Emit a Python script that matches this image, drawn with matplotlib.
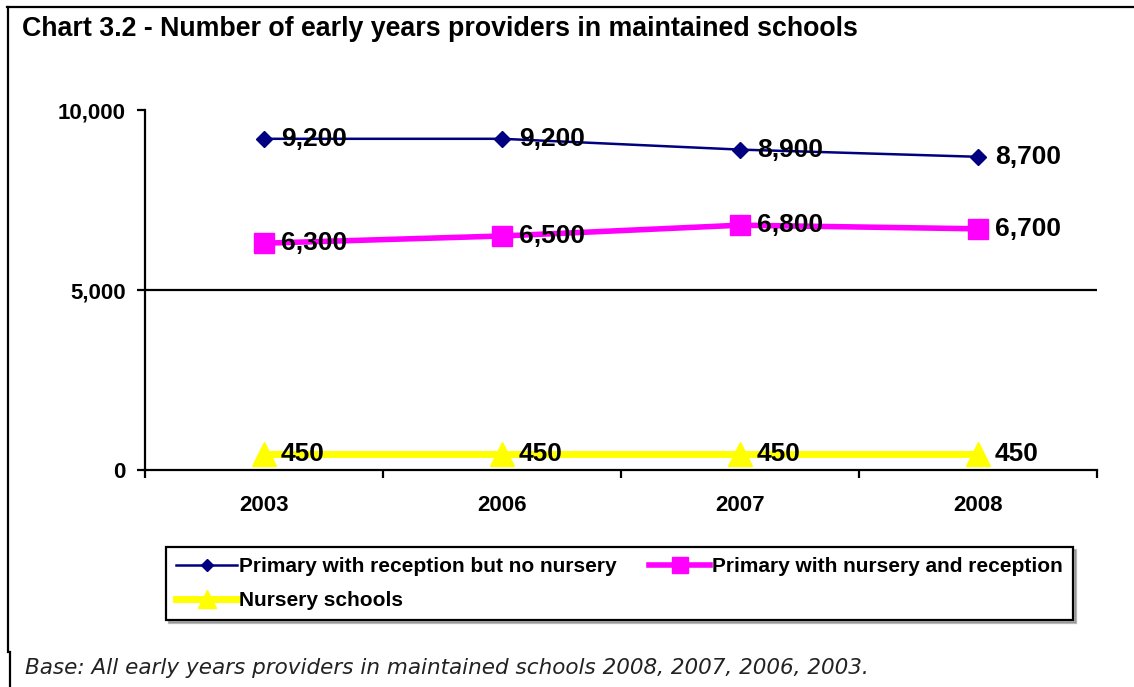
import matplotlib
matplotlib.use("Agg")
import matplotlib.pyplot as plt
from matplotlib.lines import Line2D

years = ["2003", "2006", "2007", "2008"]
primary_reception = [9200, 9200, 8900, 8700]
primary_nursery = [6300, 6500, 6800, 6700]
nursery_schools = [450, 450, 450, 450]
series_names = ["Primary with reception but no nursery",
                "Primary with nursery and reception",
                "Nursery schools"]
yticks = [0, 5000, 10000]

W, H = 1134, 687
fig = plt.figure(figsize=(W / 100, H / 100), dpi=100)
plt.rcParams['font.family'] = ['Liberation Sans', 'DejaVu Sans']

def fx(px):
    return px / W

def fy(py):
    return 1 - py / H

ax = fig.add_axes([fx(145), fy(470), fx(1097) - fx(145), fy(110) - fy(470)])
x = list(range(len(years)))

ax.axhline(5000, color='black', lw=1.6, zorder=1)

l0, = ax.plot(x, primary_reception, color='#000080', lw=1.8, marker='D', ms=8,
              mfc='#000080', mec='#000080', label=series_names[0], zorder=3)
l1, = ax.plot(x, primary_nursery, color='#FF00FF', lw=4, marker='s', ms=14,
              mfc='#FF00FF', mec='#FF00FF', label=series_names[1], zorder=3)
l2, = ax.plot(x, nursery_schools, color='#FFFF00', lw=5, marker='^', ms=17,
              mfc='#FFFF00', mec='#FFFF00', label=series_names[2], zorder=3)

for series in (primary_reception, primary_nursery, nursery_schools):
    for xi, v in zip(x, series):
        ax.annotate(f"{v:,}", (xi, v), xytext=(12, 0), textcoords='offset points',
                    ha='left', va='center', fontsize=19, fontweight='bold',
                    color='black', zorder=4)

ax.set_xlim(-0.5, len(years) - 0.5)
ax.set_ylim(0, 10000)
ax.set_yticks(yticks)
ax.set_yticklabels([f"{t:,}" for t in yticks], fontsize=16, fontweight='bold')
ax.set_xticks(x)
ax.set_xticklabels(years, fontsize=16, fontweight='bold')
ax.set_xticks([i - 0.5 for i in range(len(years) + 1)], minor=True)
ax.tick_params(axis='x', which='major', length=0, pad=18)
ax.tick_params(axis='x', which='minor', length=6, width=1.6, direction='out')
ax.tick_params(axis='y', length=6, width=1.6, direction='out', pad=8)
for s in ('top', 'right'):
    ax.spines[s].set_visible(False)
for s in ('left', 'bottom'):
    ax.spines[s].set_linewidth(1.6)

fig.text(fx(22), fy(29), "Chart 3.2 - Number of early years providers in maintained schools",
         fontsize=19.3, fontweight='bold', ha='left', va='center')

leg = fig.legend([l0, l2, l1], [series_names[0], series_names[2], series_names[1]],
                 loc='upper left', bbox_to_anchor=(fx(166), fy(547), fx(1073) - fx(166), 0),
                 mode='expand', ncol=2, prop={'weight': 'bold', 'size': 15},
                 frameon=True, fancybox=False, edgecolor='black', handlelength=2.9,
                 handletextpad=0.1, borderpad=0.5, labelspacing=0.7, columnspacing=0.5,
                 borderaxespad=0,
                 shadow={'ox': 2, 'oy': -2, 'color': '0.45'})
leg.get_frame().set_linewidth(1.6)
for h in leg.legend_handles:
    h.set_markersize(h.get_markersize() * 0.8)

fig.text(fx(25), fy(668), "Base: All early years providers in maintained schools 2008, 2007, 2006, 2003.",
         fontsize=15.5, style='italic', family='DejaVu Sans', color='#222222',
         ha='left', va='center')

fig.add_artist(Line2D([fx(7), 1], [fy(7), fy(7)], color='black', lw=1.6))
fig.add_artist(Line2D([fx(8), fx(8)], [fy(7), fy(652)], color='black', lw=1.6))
fig.add_artist(Line2D([fx(10), fx(10)], [fy(652), 0], color='black', lw=1.6))

fig.savefig("out.png", dpi=100)
